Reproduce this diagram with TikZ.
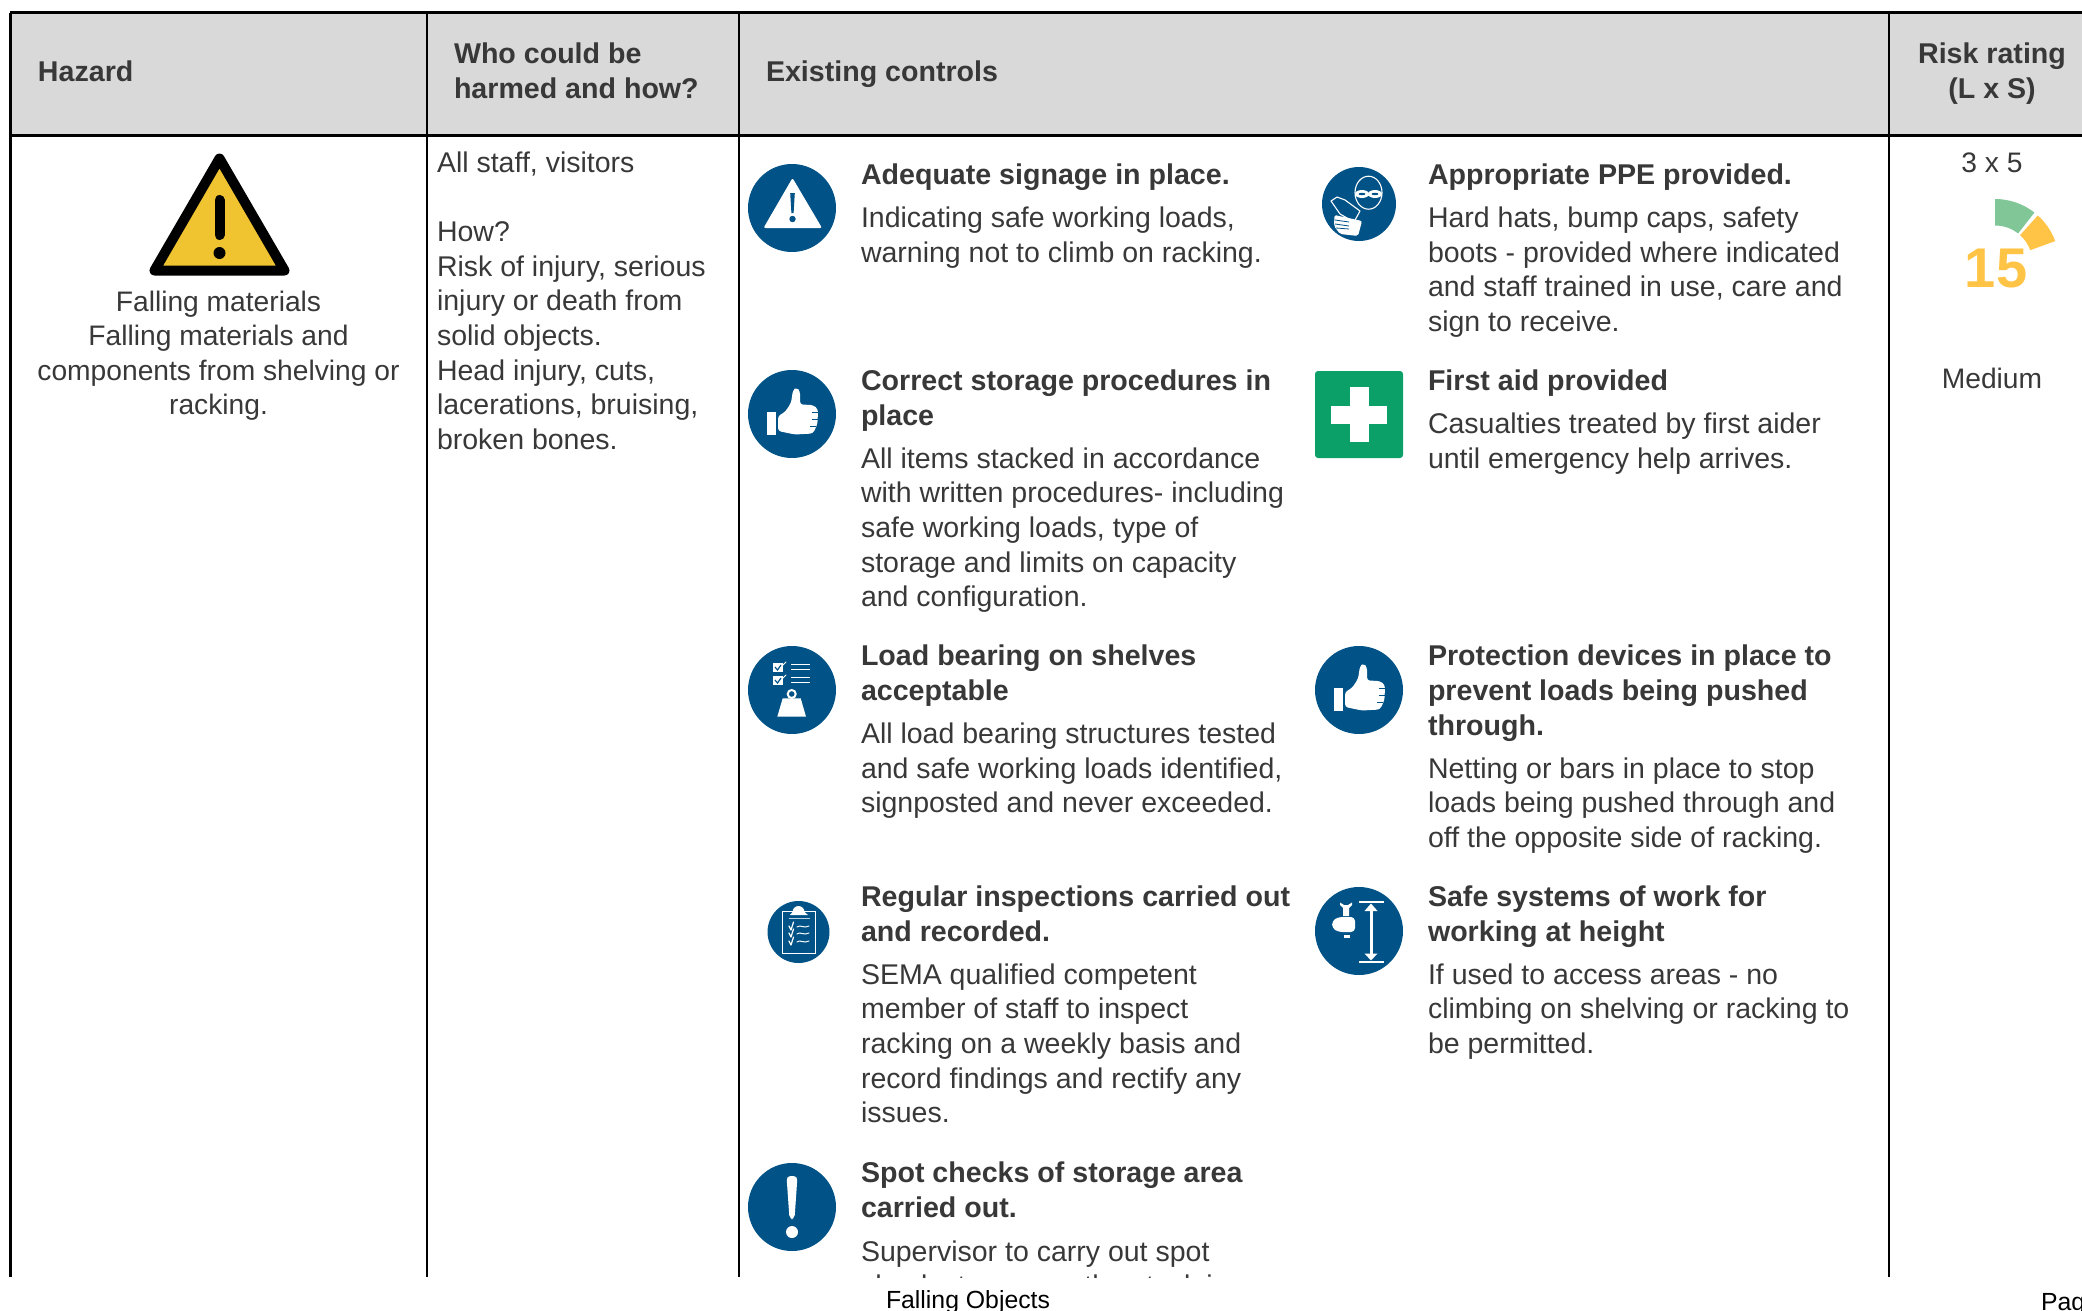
\documentclass[tikz,border=0pt]{standalone}
\usepackage{fontspec}
\setmainfont{Liberation Sans}
\definecolor{ink}{HTML}{383838}
\definecolor{headgrey}{HTML}{D9D9D9}
\definecolor{signblue}{HTML}{005287}
\definecolor{aidgreen}{HTML}{0BA068}
\definecolor{warnyellow}{HTML}{F0C330}
\definecolor{gaugegreen}{HTML}{80C697}
\definecolor{gaugeyellow}{HTML}{FFC445}
\tikzset{
  txt/.style={anchor=base west,inner sep=0pt,outer sep=0pt,text=ink,font=\fontsize{14.25}{17.3}\selectfont},
  ttl/.style={txt,font=\fontsize{14.3}{17.3}\selectfont\bfseries},
  ctr/.style={txt,anchor=base,font=\fontsize{14.1}{17.3}\selectfont},
  ctrb/.style={ttl,anchor=base},
  foot/.style={anchor=base west,inner sep=0pt,outer sep=0pt,text=black,font=\fontsize{12.4}{15}\selectfont},
  rule/.style={draw=black,line width=1.05pt},
  rulethick/.style={draw=black,line width=1.5pt},
  sign/.style={fill=signblue,draw=none},
  wht/.style={fill=white,draw=none},
  whl/.style={draw=white,line cap=round,line join=round},
}
\newcommand{\thumbicon}[2]{%
  \begin{scope}[shift={(#1,#2)}]
    \fill[sign] (0,0) circle (44);
    \fill[wht] (-25.4,-2) rectangle (-16,21);
    \fill[wht,rounded corners=1.5pt] (-14,2) -- (-7,-2) -- (-1,-11) -- (1,-24) -- (4.5,-26.5) -- (8,-23) -- (8,-9.5) -- (21,-9) -- (26,-5) -- (25.5,10) -- (21,19.5) -- (3,20.5) -- (-14,17) -- cycle;
    \draw[signblue,line width=0.3pt] (20,-2) -- (26,-2) (20,5) -- (26,5) (18,12) -- (24,12);
  \end{scope}}
\begin{document}
\begin{tikzpicture}[x=0.5pt,y=-0.5pt]
\useasboundingbox (0,0) rectangle (2082,1311);
\clip (0,0) rectangle (2082,1311);
% header band and table rules
\fill[headgrey] (10.5,13) rectangle (2082,136);
\draw[rule] (10.5,1277) -- (10.5,13);
\draw[rulethick] (10,13) -- (2082,13);
\draw[rulethick] (10,136) -- (2082,136);
\draw[rule] (427,13) -- (427,1277);
\draw[rule] (739,13) -- (739,1277);
\draw[rule] (1889,13) -- (1889,1277);
% header text
\node[ttl] (hHazard) at (38,82) {Hazard};
\node[ttl] (hWho1) at (454,64) {Who could be};
\node[ttl] (hWho2) at (454,98.5) {harmed and how?};
\node[ttl] (hCtl) at (766,82) {Existing controls};
\node[ctrb] (hRisk1) at (1992,64) {Risk rating};
\node[ctrb] (hRisk2) at (1992,98.5) {(L x S)};
% warning triangle
\draw[fill=warnyellow,draw=black,line width=5pt,line join=round] (219.5,158.5) -- (284.5,270.5) -- (154.5,270.5) -- cycle;
\draw[black,line width=5pt,line cap=round] (219.5,200) -- (219.5,235);
\fill[black] (219.5,253) circle (6);
% hazard text
\node[ctr] (hz1) at (218.5,311) {Falling materials};
\node[ctr] (hz2) at (218.5,345) {Falling materials and};
\node[ctr] (hz3) at (218.5,380) {components from shelving or};
\node[ctr] (hz4) at (218.5,414) {racking.};
% who text
\node[txt] (w1) at (437,172) {All staff, visitors};
\node[txt] (w2) at (437,241) {How?};
\node[txt] (w3) at (437,276) {Risk of injury, serious};
\node[txt] (w4) at (437,310) {injury or death from};
\node[txt] (w5) at (437,345) {solid objects.};
\node[txt] (w6) at (437,380) {Head injury, cuts,};
\node[txt] (w7) at (437,414) {lacerations, bruising,};
\node[txt] (w8) at (437,449) {broken bones.};
% icon: warning sign
\fill[sign] (792,208) circle (44);
\fill[wht,rounded corners=1pt] (792.5,178) -- (822,228) -- (763.5,228) -- cycle;
\fill[signblue] (790.2,193) -- (794.8,193) -- (793.6,213) -- (791.4,213) -- cycle;
\fill[signblue] (792.5,219) circle (3.2);
% icon: thumb
\thumbicon{792}{414}
% icon: load
\fill[sign] (792,690) circle (44);
\draw[whl,line width=0.8pt,line cap=butt] (791,664.5) -- (810,664.5) (791,669.5) -- (810,669.5) (791,677.5) -- (810,677.5) (791,682.5) -- (810,682.5);
\fill[wht] (773,663) rectangle (783,672);
\fill[wht] (773,676) rectangle (783,685);
\draw[signblue,line width=0.6pt] (775,667) -- (777.5,670) -- (781,665);
\draw[signblue,line width=0.6pt] (775,680) -- (777.5,683) -- (781,678);
\draw[whl,line width=0.5pt] (782,666) -- (786,662) (782,679) -- (786,675);
\fill[wht] (782.7,698.3) -- (800.7,698.3) -- (806,716.7) -- (777.3,716.7) -- cycle;
\draw[white,line width=1pt] (791.7,694) circle (4);
% icon: clipboard
\fill[sign] (798.5,932) circle (31);
\draw[white,line width=0.6pt] (782.7,911.7) rectangle (815.3,953.3);
\fill[wht] (792.5,912) arc[start angle=180,end angle=360,radius=6] -- (808,915) -- (790,915) -- cycle;
\draw[white!75!signblue,line width=0.4pt] (788.5,918.5) -- (809.5,918.5);
\foreach \yy in {926,933,941}{
  \draw[whl,line width=0.6pt] (789,\yy) -- (791,\yy+4) -- (793.5,\yy-4);
  \draw[whl,line width=0.5pt] (797,\yy+1) .. controls (800,\yy-2) and (804,\yy+3) .. (809,\yy);
}
% icon: exclamation
\fill[sign] (792,1207) circle (44);
\fill[wht,rounded corners=2pt] (786.5,1176) -- (797.5,1176) -- (794.5,1219) -- (789.5,1219) -- cycle;
\fill[white] (792,1232) circle (6);
% icon: PPE
\fill[sign] (1359,204) circle (37);
\draw[white,line width=0.55pt] (1368.5,192.7) ellipse (13.5 and 16.5);
\fill[white] (1362,194) ellipse (7 and 4);
\fill[white] (1375,194) ellipse (7 and 4);
\fill[white] (1360,192.5) rectangle (1377,195.5);
\fill[signblue] (1362,194) ellipse (3.4 and 1.2);
\fill[signblue] (1375,194) ellipse (3.4 and 1.2);
\draw[white,line width=0.55pt,line join=round,fill=signblue] (1331,201) -- (1337,197) -- (1345,200) -- (1360,211) -- (1354,222) -- (1340,214) -- cycle;
\fill[wht,rounded corners=1pt] (1334.5,215) -- (1362,221) -- (1358,236) -- (1340,234) -- (1334,226) -- cycle;
\draw[signblue,line width=0.4pt] (1335,220) -- (1349,222) (1335,224) -- (1349,226) (1336,228) -- (1349,229);
% icon: first aid
\fill[aidgreen,rounded corners=1.5pt] (1315,371) rectangle (1403,458);
\fill[white] (1349.5,387) rectangle (1368.5,442);
\fill[white] (1331,405.5) rectangle (1387,423.5);
% icon: thumb 2
\thumbicon{1359}{690}
% icon: work at height
\fill[sign] (1359,931) circle (44);
\draw[white,line width=0.8pt] (1359,902) -- (1384,902) (1359,962) -- (1384,962);
\draw[white,line width=1.5pt] (1371,908) -- (1371,956);
\fill[wht] (1371,903.5) -- (1377.5,911) -- (1364.5,911) -- cycle;
\fill[wht] (1371,960.5) -- (1377.5,953.5) -- (1364.5,953.5) -- cycle;
\fill[wht,rounded corners=2pt] (1332,921) -- (1338,917) -- (1355,917) -- (1355,932) -- (1338,932) -- (1332,928) -- cycle;
\fill[wht] (1343,916) -- (1343,908) -- (1340,905) -- (1340,902.5) -- (1344,905) -- (1348,905) -- (1352,902.5) -- (1352,905) -- (1349,908) -- (1349,916) -- cycle;
\fill[wht] (1343.5,935) rectangle (1350,937.5);
% left column text
\node[ttl] (a1) at (861,184.5) {Adequate signage in place.};
\node[txt] (a2) at (861,227) {Indicating safe working loads,};
\node[txt] (a3) at (861,262) {warning not to climb on racking.};
\node[ttl] (b1) at (861,390) {Correct storage procedures in};
\node[ttl] (b2) at (861,425) {place};
\node[txt] (b3) at (861,468) {All items stacked in accordance};
\node[txt] (b4) at (861,502.5) {with written procedures- including};
\node[txt] (b5) at (861,537) {safe working loads, type of};
\node[txt] (b6) at (861,572) {storage and limits on capacity};
\node[txt] (b7) at (861,606.5) {and configuration.};
\node[ttl] (c1) at (861,665.5) {Load bearing on shelves};
\node[ttl] (c2) at (861,700.5) {acceptable};
\node[txt] (c3) at (861,743) {All load bearing structures tested};
\node[txt] (c4) at (861,778) {and safe working loads identified,};
\node[txt] (c5) at (861,812.5) {signposted and never exceeded.};
\node[ttl] (d1) at (861,906.5) {Regular inspections carried out};
\node[ttl] (d2) at (861,941.5) {and recorded.};
\node[txt] (d3) at (861,984) {SEMA qualified competent};
\node[txt] (d4) at (861,1018.5) {member of staff to inspect};
\node[txt] (d5) at (861,1053) {racking on a weekly basis and};
\node[txt] (d6) at (861,1088) {record findings and rectify any};
\node[txt] (d7) at (861,1122.5) {issues.};
\node[ttl] (e1) at (861,1182.5) {Spot checks of storage area};
\node[ttl] (e2) at (861,1217) {carried out.};
\node[txt] (e3) at (861,1261) {Supervisor to carry out spot};
\begin{scope}
  \clip (850,1240) rectangle (1300,1277);
  \node[txt] (e4) at (861,1295) {checks to ensure the stock is};
\end{scope}
% right column text
\node[ttl] (f1) at (1428,184.5) {Appropriate PPE provided.};
\node[txt] (f2) at (1428,227) {Hard hats, bump caps, safety};
\node[txt] (f3) at (1428,262) {boots - provided where indicated};
\node[txt] (f4) at (1428,296) {and staff trained in use, care and};
\node[txt] (f5) at (1428,331) {sign to receive.};
\node[ttl] (g1) at (1428,390) {First aid provided};
\node[txt] (g2) at (1428,433.5) {Casualties treated by first aider};
\node[txt] (g3) at (1428,468) {until emergency help arrives.};
\node[ttl] (h1) at (1428,665.5) {Protection devices in place to};
\node[ttl] (h2) at (1428,700.5) {prevent loads being pushed};
\node[ttl] (h3) at (1428,735) {through.};
\node[txt] (h4) at (1428,778) {Netting or bars in place to stop};
\node[txt] (h5) at (1428,812.5) {loads being pushed through and};
\node[txt] (h6) at (1428,847) {off the opposite side of racking.};
\node[ttl] (i1) at (1428,906.5) {Safe systems of work for};
\node[ttl] (i2) at (1428,941.5) {working at height};
\node[txt] (i3) at (1428,984) {If used to access areas - no};
\node[txt] (i4) at (1428,1018.5) {climbing on shelving or racking to};
\node[txt] (i5) at (1428,1053) {be permitted.};
% risk column
\node[ctr] (r1) at (1992,172) {3 x 5};
\coordinate (gc) at (1995,263);
\fill[gaugegreen] (gc) ++(-90:64) arc[start angle=-90,end angle=-52,radius=64] -- ++(128:26.5) arc[start angle=-52,end angle=-90,radius=37.5] -- cycle;
\fill[gaugeyellow] (gc) ++(-48:64) arc[start angle=-48,end angle=-20,radius=64] -- ++(160:26.5) arc[start angle=-20,end angle=-48,radius=37.5] -- cycle;
\node[anchor=base,inner sep=0pt,text=gaugeyellow,font=\fontsize{28}{30}\selectfont\bfseries] (r2) at (1996,287) {15};
\node[ctr] (r3) at (1992,388) {Medium};
% footer
\node[foot] (ft1) at (886,1308) {Falling Objects};
\node[foot] (ft2) at (2041,1310) {Pag};
\end{tikzpicture}
\end{document}
